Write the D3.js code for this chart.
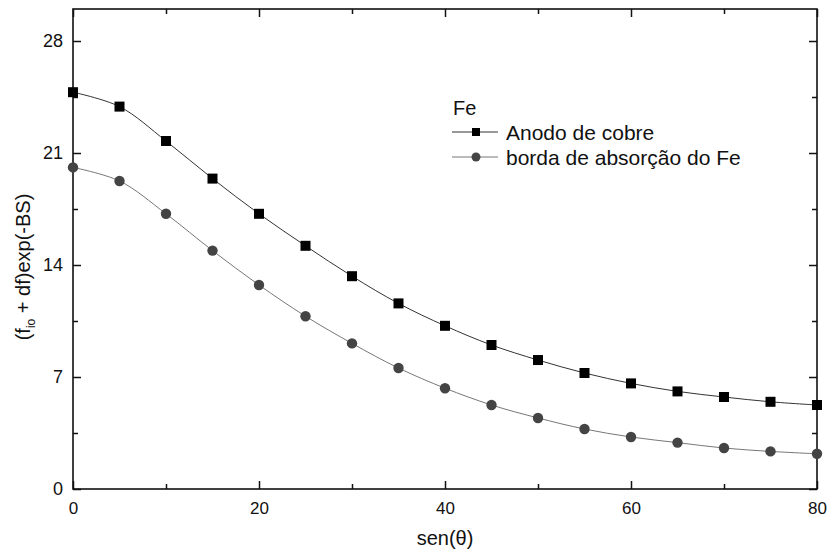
<!DOCTYPE html>
<html>
<head>
<meta charset="utf-8">
<script src="https://cdn.jsdelivr.net/npm/d3@7"></script>
<style>
  body { margin: 0; background: #fff; }
  text { font-family: "Liberation Sans", Arial, sans-serif; fill: #111; }
</style>
</head>
<body>
<div id="chart"></div>
<script>
var WIDTH = 827;
var HEIGHT = 550;

// data
var angles = [0, 5, 10, 15, 20, 25, 30, 35, 40, 45, 50, 55, 60, 65, 70, 75, 80];
var anodoCobre = [24.8, 23.9, 21.75, 19.4, 17.2, 15.2, 13.3, 11.6, 10.2, 9.0, 8.06, 7.25, 6.6, 6.1, 5.75, 5.45, 5.25];
var bordaFe = [20.1, 19.25, 17.2, 14.9, 12.75, 10.8, 9.1, 7.56, 6.3, 5.25, 4.44, 3.75, 3.25, 2.9, 2.56, 2.35, 2.2];
var xTicks = [0, 20, 40, 60, 80];
var xMinor = [10, 30, 50, 70];
var yTicks = [0, 7, 14, 21, 28];
var yMinor = [3.5, 10.5, 17.5, 24.5];
var legendTitle = "Fe";
var seriesNames = ["Anodo de cobre", "borda de absorção do Fe"];

var margin = { top: 9, right: 10, bottom: 61, left: 73 };
var plotWidth = WIDTH - margin.left - margin.right;
var plotHeight = HEIGHT - margin.top - margin.bottom;

var svg = d3.select("#chart").append("svg")
  .attr("width", WIDTH)
  .attr("height", HEIGHT);

var inner = svg.append("g")
  .attr("transform", `translate(${margin.left},${margin.top})`);

var xScale = d3.scaleLinear().domain([0, 80]).range([0, plotWidth]);
var yScale = d3.scaleLinear().domain([0, 30]).range([plotHeight, 0]);

// axes with inward ticks
function tickAxis(axis, values, size) {
  return axis.tickValues(values).tickSizeInner(size).tickSizeOuter(0);
}

var xAxisG = inner.append("g")
  .attr("transform", `translate(0,${plotHeight})`)
  .call(tickAxis(d3.axisBottom(xScale), xTicks, -8).tickPadding(13));
inner.append("g")
  .attr("transform", `translate(0,${plotHeight})`)
  .call(tickAxis(d3.axisBottom(xScale), xMinor, -5).tickFormat(""));
inner.append("g")
  .call(tickAxis(d3.axisTop(xScale), xTicks, -8).tickFormat(""));
inner.append("g")
  .call(tickAxis(d3.axisTop(xScale), xMinor, -5).tickFormat(""));

var yAxisG = inner.append("g")
  .call(tickAxis(d3.axisLeft(yScale), yTicks, -8).tickPadding(10));
inner.append("g")
  .call(tickAxis(d3.axisLeft(yScale), yMinor, -5).tickFormat(""));
inner.append("g")
  .attr("transform", `translate(${plotWidth},0)`)
  .call(tickAxis(d3.axisRight(yScale), yTicks, -8).tickFormat(""));
inner.append("g")
  .attr("transform", `translate(${plotWidth},0)`)
  .call(tickAxis(d3.axisRight(yScale), yMinor, -5).tickFormat(""));

inner.selectAll(".tick text").style("font-family", "Liberation Sans, Arial, sans-serif").attr("fill", "#111");
xAxisG.selectAll(".tick text").style("font-size", "17px");
yAxisG.selectAll(".tick text").style("font-size", "18px");
inner.selectAll(".tick line").attr("stroke", "#111").attr("stroke-width", 1.5);
inner.selectAll(".domain").remove();

// frame
inner.append("rect")
  .attr("width", plotWidth)
  .attr("height", plotHeight)
  .attr("fill", "none")
  .attr("stroke", "#111")
  .attr("stroke-width", 1.6);

// lines
var line = d3.line()
  .x((d, i) => xScale(angles[i]))
  .y(d => yScale(d))
  .curve(d3.curveCatmullRom);

inner.append("path")
  .datum(anodoCobre)
  .attr("d", line)
  .attr("fill", "none")
  .attr("stroke", "#333")
  .attr("stroke-width", 1);

inner.append("path")
  .datum(bordaFe)
  .attr("d", line)
  .attr("fill", "none")
  .attr("stroke", "#777")
  .attr("stroke-width", 1);

// markers
var sq = 10;
inner.selectAll(".sq")
  .data(anodoCobre)
  .join("rect")
  .attr("class", "sq")
  .attr("x", (d, i) => xScale(angles[i]) - sq / 2)
  .attr("y", d => yScale(d) - sq / 2)
  .attr("width", sq)
  .attr("height", sq)
  .attr("fill", "#000");

inner.selectAll(".dot")
  .data(bordaFe)
  .join("circle")
  .attr("class", "dot")
  .attr("cx", (d, i) => xScale(angles[i]))
  .attr("cy", d => yScale(d))
  .attr("r", 5.2)
  .attr("fill", "#444");

// legend
var legend = svg.append("g").attr("transform", "translate(446,107)");
legend.append("text")
  .attr("x", 7)
  .attr("y", 7.5)
  .style("font-size", "20px")
  .text(legendTitle);

var rows = legend.selectAll(".row")
  .data(seriesNames)
  .join("g")
  .attr("class", "row")
  .attr("transform", (d, i) => `translate(0,${25 + i * 25})`);

rows.append("line")
  .attr("x1", 6).attr("x2", 52)
  .attr("stroke", (d, i) => i === 0 ? "#333" : "#777")
  .attr("stroke-width", 1);

rows.filter((d, i) => i === 0).append("rect")
  .attr("x", 26).attr("y", -4).attr("width", 8).attr("height", 8)
  .attr("fill", "#000");
rows.filter((d, i) => i === 1).append("circle")
  .attr("cx", 30).attr("cy", 0).attr("r", 4.5)
  .attr("fill", "#444");

rows.append("text")
  .attr("x", 60)
  .attr("y", 7.5)
  .style("font-size", "21px")
  .text(d => d);

// axis titles
svg.append("text")
  .attr("x", margin.left + plotWidth / 2)
  .attr("y", 545)
  .attr("text-anchor", "middle")
  .style("font-size", "20px")
  .text("sen(θ)");

var ylab = svg.append("text")
  .attr("transform", `translate(30,${margin.top + plotHeight / 2 + 18}) rotate(-90)`)
  .attr("text-anchor", "middle")
  .style("font-size", "20px");
ylab.append("tspan").text("(f");
ylab.append("tspan").attr("dy", 5).style("font-size", "12px").text("io");
ylab.append("tspan").attr("dy", -5).text(" + df)exp(-BS)");
</script>
</body>
</html>
